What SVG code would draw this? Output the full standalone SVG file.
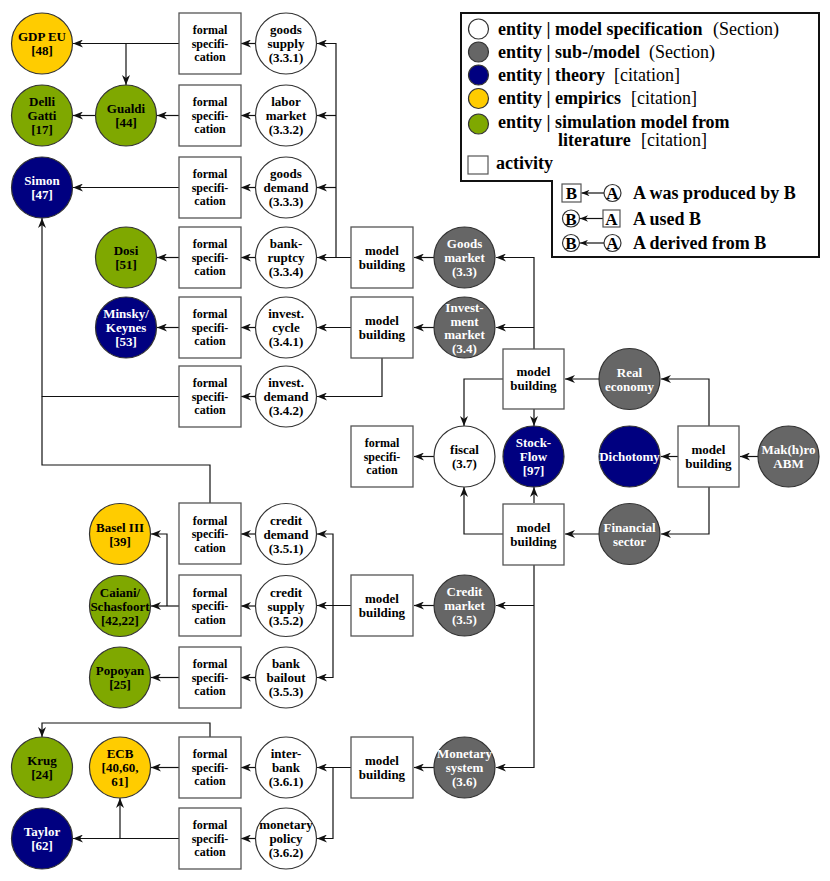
<svg xmlns="http://www.w3.org/2000/svg" width="830" height="881" viewBox="0 0 830 881" font-family="'Liberation Serif', 'Times New Roman', serif">
<style>
text{font-family:"Liberation Serif","Times New Roman",serif;font-weight:bold;text-anchor:middle}
.n text{font-size:13px}
.f text{font-size:12px}
.ent{stroke:#333;stroke-width:1.2}
.w{fill:#fff}.g{fill:#666}.b{fill:#000080}.y{fill:#ffcc00}.gr{fill:#7fa800}
.lt{fill:#fff}
.box{fill:#fff;stroke:#555;stroke-width:1.3}
#connectors path{fill:none;stroke:#111;stroke-width:1.2;marker-end:url(#a)}
#connectors path.j{marker-end:none}
.leg text{text-anchor:start;font-size:18px}
.leg .r{font-weight:normal}
</style>
<defs>
<marker id="a" viewBox="0 0 10 8" refX="10" refY="4" markerWidth="10" markerHeight="8" markerUnits="userSpaceOnUse" orient="auto"><path d="M0,0 L10,4 L0,8 L3,4 z" fill="#111"/></marker>
<marker id="s" viewBox="0 0 10 8" refX="10" refY="4" markerWidth="8" markerHeight="6.4" markerUnits="userSpaceOnUse" orient="auto"><path d="M0,0 L10,4 L0,8 L3,4 z" fill="#111"/></marker>
</defs>
<rect width="830" height="881" fill="#fff"/>

<g id="connectors">
<path d="M255,43.5 H241"/>
<path d="M179,43.5 H73"/>
<path d="M126,43.5 V85"/>
<path d="M255,115.5 H241"/>
<path d="M179,115.5 H157"/>
<path d="M96,115.5 H73"/>
<path d="M255,187.5 H241"/>
<path d="M179,187.5 H73"/>
<path d="M255,257.5 H241"/>
<path d="M179,257.5 H157"/>
<path d="M255,327.5 H241"/>
<path d="M179,327.5 H157"/>
<path d="M255,396.5 H241"/>
<path d="M179,396.5 H42 V218"/>
<path class="j" d="M210,503 V465 H42 V396.5"/>
<path d="M351,257.5 H317"/>
<path d="M336,257.5 V43.5 H317"/>
<path d="M336,115.5 H317"/>
<path d="M336,187.5 H317"/>
<path d="M351,327.5 H317"/>
<path d="M382,358 V396.5 H317"/>
<path d="M434,257.5 H414"/>
<path d="M434,327.5 H414"/>
<path d="M534,349 V257.5 H496"/>
<path d="M534,327.5 H496"/>
<path d="M503,379 H464 V426"/>
<path d="M534,409 V426"/>
<path d="M599,379 H565"/>
<path d="M709,426 V379 H661"/>
<path d="M678,456.5 H661"/>
<path d="M709,487 V534 H661"/>
<path d="M758,456.5 H740"/>
<path d="M434,456.5 H414"/>
<path d="M503,534 H464 V487"/>
<path d="M534,503 V487"/>
<path d="M599,534 H565"/>
<path d="M534,565 V767.5 H496"/>
<path d="M534,605.5 H496"/>
<path d="M434,605.5 H414"/>
<path d="M351,605.5 H317"/>
<path d="M333,606 V534 H317"/>
<path d="M333,606 V677.5 H317"/>
<path d="M255,534 H241"/>
<path d="M255,606 H241"/>
<path d="M255,677.5 H241"/>
<path d="M179,606 H151"/>
<path d="M167,606 V534 H151"/>
<path d="M179,677.5 H151"/>
<path d="M434,767.5 H414"/>
<path d="M351,767.5 H317"/>
<path d="M333,767.5 V838.5 H317"/>
<path d="M255,767.5 H241"/>
<path d="M255,838.5 H241"/>
<path d="M179,767.5 H151"/>
<path d="M210,737 V723 H42 V737"/>
<path d="M179,838.5 H73"/>
<path d="M120,838.5 V798"/>
</g>

<!-- literature / theory / empirics entities -->
<g id="gdp" class="n"><circle class="ent y" cx="42" cy="43.5" r="30.5"/><text><tspan x="42" y="41">GDP EU</tspan><tspan x="42" y="55">[48]</tspan></text></g>
<g id="delli" class="n"><circle class="ent gr" cx="42" cy="115.5" r="30.5"/><text><tspan x="42" y="106">Delli</tspan><tspan x="42" y="120">Gatti</tspan><tspan x="42" y="134">[17]</tspan></text></g>
<g id="gualdi" class="n"><circle class="ent gr" cx="126" cy="115.5" r="30.5"/><text><tspan x="126" y="113">Gualdi</tspan><tspan x="126" y="127">[44]</tspan></text></g>
<g id="simon" class="n"><circle class="ent b" cx="42" cy="187.5" r="30.5"/><text class="lt"><tspan x="42" y="185">Simon</tspan><tspan x="42" y="199">[47]</tspan></text></g>
<g id="dosi" class="n"><circle class="ent gr" cx="126" cy="257.5" r="30.5"/><text><tspan x="126" y="255">Dosi</tspan><tspan x="126" y="269">[51]</tspan></text></g>
<g id="minsky" class="n"><circle class="ent b" cx="126" cy="327.5" r="30.5"/><text class="lt"><tspan x="126" y="318">Minsky/</tspan><tspan x="126" y="332">Keynes</tspan><tspan x="126" y="346">[53]</tspan></text></g>
<g id="basel" class="n"><circle class="ent y" cx="120" cy="534" r="30.5"/><text><tspan x="120" y="531.5">Basel III</tspan><tspan x="120" y="545.5">[39]</tspan></text></g>
<g id="caiani" class="n"><circle class="ent gr" cx="120" cy="606" r="30.5"/><text><tspan x="120" y="596.5">Caiani/</tspan><tspan x="120" y="610.5">Schasfoort</tspan><tspan x="120" y="624.5">[42,22]</tspan></text></g>
<g id="popoyan" class="n"><circle class="ent gr" cx="120" cy="677.5" r="30.5"/><text><tspan x="120" y="675">Popoyan</tspan><tspan x="120" y="689">[25]</tspan></text></g>
<g id="krug" class="n"><circle class="ent gr" cx="42" cy="767.5" r="30.5"/><text><tspan x="42" y="765">Krug</tspan><tspan x="42" y="779">[24]</tspan></text></g>
<g id="ecb" class="n"><circle class="ent y" cx="120" cy="767.5" r="30.5"/><text><tspan x="120" y="758">ECB</tspan><tspan x="120" y="772">[40,60,</tspan><tspan x="120" y="786">61]</tspan></text></g>
<g id="taylor" class="n"><circle class="ent b" cx="42" cy="838.5" r="30.5"/><text class="lt"><tspan x="42" y="836">Taylor</tspan><tspan x="42" y="850">[62]</tspan></text></g>

<!-- formal specification activities -->
<g id="fs1" class="f"><rect class="box" x="179" y="13" width="62" height="61"/><text><tspan x="210" y="34">formal</tspan><tspan x="210" y="47.5">specifi-</tspan><tspan x="210" y="61">cation</tspan></text></g>
<g id="fs2" class="f"><rect class="box" x="179" y="85" width="62" height="61"/><text><tspan x="210" y="106">formal</tspan><tspan x="210" y="119.5">specifi-</tspan><tspan x="210" y="133">cation</tspan></text></g>
<g id="fs3" class="f"><rect class="box" x="179" y="157" width="62" height="61"/><text><tspan x="210" y="178">formal</tspan><tspan x="210" y="191.5">specifi-</tspan><tspan x="210" y="205">cation</tspan></text></g>
<g id="fs4" class="f"><rect class="box" x="179" y="227" width="62" height="61"/><text><tspan x="210" y="248">formal</tspan><tspan x="210" y="261.5">specifi-</tspan><tspan x="210" y="275">cation</tspan></text></g>
<g id="fs5" class="f"><rect class="box" x="179" y="297" width="62" height="61"/><text><tspan x="210" y="318">formal</tspan><tspan x="210" y="331.5">specifi-</tspan><tspan x="210" y="345">cation</tspan></text></g>
<g id="fs6" class="f"><rect class="box" x="179" y="366" width="62" height="61"/><text><tspan x="210" y="387">formal</tspan><tspan x="210" y="400.5">specifi-</tspan><tspan x="210" y="414">cation</tspan></text></g>
<g id="fs7" class="f"><rect class="box" x="179" y="503" width="62" height="61"/><text><tspan x="210" y="524.5">formal</tspan><tspan x="210" y="538">specifi-</tspan><tspan x="210" y="551.5">cation</tspan></text></g>
<g id="fs8" class="f"><rect class="box" x="179" y="575" width="62" height="61"/><text><tspan x="210" y="596.5">formal</tspan><tspan x="210" y="610">specifi-</tspan><tspan x="210" y="623.5">cation</tspan></text></g>
<g id="fs9" class="f"><rect class="box" x="179" y="647" width="62" height="61"/><text><tspan x="210" y="668">formal</tspan><tspan x="210" y="681.5">specifi-</tspan><tspan x="210" y="695">cation</tspan></text></g>
<g id="fs10" class="f"><rect class="box" x="179" y="737" width="62" height="61"/><text><tspan x="210" y="758">formal</tspan><tspan x="210" y="771.5">specifi-</tspan><tspan x="210" y="785">cation</tspan></text></g>
<g id="fs11" class="f"><rect class="box" x="179" y="808" width="62" height="61"/><text><tspan x="210" y="829">formal</tspan><tspan x="210" y="842.5">specifi-</tspan><tspan x="210" y="856">cation</tspan></text></g>
<g id="fs12" class="f"><rect class="box" x="351" y="426" width="62" height="61"/><text><tspan x="382" y="447">formal</tspan><tspan x="382" y="460.5">specifi-</tspan><tspan x="382" y="474">cation</tspan></text></g>

<!-- model specification entities -->
<g id="ms331" class="n"><circle class="ent w" cx="286" cy="43.5" r="30.5"/><text><tspan x="286" y="34">goods</tspan><tspan x="286" y="48">supply</tspan><tspan x="286" y="62">(3.3.1)</tspan></text></g>
<g id="ms332" class="n"><circle class="ent w" cx="286" cy="115.5" r="30.5"/><text><tspan x="286" y="106">labor</tspan><tspan x="286" y="120">market</tspan><tspan x="286" y="134">(3.3.2)</tspan></text></g>
<g id="ms333" class="n"><circle class="ent w" cx="286" cy="187.5" r="30.5"/><text><tspan x="286" y="178">goods</tspan><tspan x="286" y="192">demand</tspan><tspan x="286" y="206">(3.3.3)</tspan></text></g>
<g id="ms334" class="n"><circle class="ent w" cx="286" cy="257.5" r="30.5"/><text><tspan x="286" y="248">bank-</tspan><tspan x="286" y="262">ruptcy</tspan><tspan x="286" y="276">(3.3.4)</tspan></text></g>
<g id="ms341" class="n"><circle class="ent w" cx="286" cy="327.5" r="30.5"/><text><tspan x="286" y="318">invest.</tspan><tspan x="286" y="332">cycle</tspan><tspan x="286" y="346">(3.4.1)</tspan></text></g>
<g id="ms342" class="n"><circle class="ent w" cx="286" cy="396.5" r="30.5"/><text><tspan x="286" y="387">invest.</tspan><tspan x="286" y="401">demand</tspan><tspan x="286" y="415">(3.4.2)</tspan></text></g>
<g id="ms351" class="n"><circle class="ent w" cx="286" cy="534" r="30.5"/><text><tspan x="286" y="524.5">credit</tspan><tspan x="286" y="538.5">demand</tspan><tspan x="286" y="552.5">(3.5.1)</tspan></text></g>
<g id="ms352" class="n"><circle class="ent w" cx="286" cy="606" r="30.5"/><text><tspan x="286" y="596.5">credit</tspan><tspan x="286" y="610.5">supply</tspan><tspan x="286" y="624.5">(3.5.2)</tspan></text></g>
<g id="ms353" class="n"><circle class="ent w" cx="286" cy="677.5" r="30.5"/><text><tspan x="286" y="668">bank</tspan><tspan x="286" y="682">bailout</tspan><tspan x="286" y="696">(3.5.3)</tspan></text></g>
<g id="ms361" class="n"><circle class="ent w" cx="286" cy="767.5" r="30.5"/><text><tspan x="286" y="758">inter-</tspan><tspan x="286" y="772">bank</tspan><tspan x="286" y="786">(3.6.1)</tspan></text></g>
<g id="ms362" class="n"><circle class="ent w" cx="286" cy="838.5" r="30.5"/><text><tspan x="286" y="829">monetary</tspan><tspan x="286" y="843">policy</tspan><tspan x="286" y="857">(3.6.2)</tspan></text></g>
<g id="fiscal" class="n"><circle class="ent w" cx="464.5" cy="456.5" r="30.5"/><text><tspan x="464.5" y="454">fiscal</tspan><tspan x="464.5" y="468">(3.7)</tspan></text></g>

<!-- model building activities -->
<g id="mb33" class="n"><rect class="box" x="351" y="227" width="62" height="61"/><text><tspan x="382" y="255">model</tspan><tspan x="382" y="269">building</tspan></text></g>
<g id="mb34" class="n"><rect class="box" x="351" y="297" width="62" height="61"/><text><tspan x="382" y="325">model</tspan><tspan x="382" y="339">building</tspan></text></g>
<g id="mb35" class="n"><rect class="box" x="351" y="575" width="62" height="61"/><text><tspan x="382" y="603">model</tspan><tspan x="382" y="617">building</tspan></text></g>
<g id="mb36" class="n"><rect class="box" x="351" y="737" width="62" height="61"/><text><tspan x="382" y="765">model</tspan><tspan x="382" y="779">building</tspan></text></g>
<g id="mbreal" class="n"><rect class="box" x="503" y="349" width="61" height="60"/><text><tspan x="533.5" y="376">model</tspan><tspan x="533.5" y="390">building</tspan></text></g>
<g id="mbfin" class="n"><rect class="box" x="503" y="504" width="61" height="61"/><text><tspan x="533.5" y="532">model</tspan><tspan x="533.5" y="546">building</tspan></text></g>
<g id="mbtop" class="n"><rect class="box" x="678" y="426" width="61" height="61"/><text><tspan x="708.5" y="454">model</tspan><tspan x="708.5" y="468">building</tspan></text></g>

<!-- sub-models and theories -->
<g id="goods" class="n"><circle class="ent g" cx="464.5" cy="257.5" r="30.5"/><text class="lt"><tspan x="464.5" y="248">Goods</tspan><tspan x="464.5" y="262">market</tspan><tspan x="464.5" y="276">(3.3)</tspan></text></g>
<g id="invest" class="n"><circle class="ent g" cx="464.5" cy="327.5" r="30.5"/><text class="lt" font-size="12"><tspan x="464.5" y="312">Invest-</tspan><tspan x="464.5" y="325.5">ment</tspan><tspan x="464.5" y="339">market</tspan><tspan x="464.5" y="352.5">(3.4)</tspan></text></g>
<g id="credit" class="n"><circle class="ent g" cx="464.5" cy="605.5" r="30.5"/><text class="lt"><tspan x="464.5" y="596">Credit</tspan><tspan x="464.5" y="610">market</tspan><tspan x="464.5" y="624">(3.5)</tspan></text></g>
<g id="monetary" class="n"><circle class="ent g" cx="464.5" cy="767.5" r="30.5"/><text class="lt" font-size="12.5"><tspan x="464.5" y="758">Monetary</tspan><tspan x="464.5" y="772">system</tspan><tspan x="464.5" y="786">(3.6)</tspan></text></g>
<g id="stockflow" class="n"><circle class="ent b" cx="533.5" cy="456.5" r="30.5"/><text class="lt"><tspan x="533.5" y="447">Stock-</tspan><tspan x="533.5" y="461">Flow</tspan><tspan x="533.5" y="475">[97]</tspan></text></g>
<g id="real" class="n"><circle class="ent g" cx="629.5" cy="379" r="30.5"/><text class="lt"><tspan x="629.5" y="376.5">Real</tspan><tspan x="629.5" y="390.5">economy</tspan></text></g>
<g id="dichotomy" class="n"><circle class="ent b" cx="629.5" cy="456.5" r="30.5"/><text class="lt"><tspan x="629.5" y="461">Dichotomy</tspan></text></g>
<g id="financial" class="n"><circle class="ent g" cx="629.5" cy="534" r="30.5"/><text class="lt"><tspan x="629.5" y="531.5">Financial</tspan><tspan x="629.5" y="545.5">sector</tspan></text></g>
<g id="makhro" class="n"><circle class="ent g" cx="788.5" cy="456.5" r="30.5"/><text class="lt"><tspan x="788.5" y="454">Mak(h)ro</tspan><tspan x="788.5" y="468">ABM</tspan></text></g>

<!-- legend -->
<g id="legend" class="leg">
<path d="M461,13 H819 V257 H552 V181 H461 Z" fill="#fff" stroke="#111" stroke-width="2"/>
<circle cx="478.5" cy="29" r="10" fill="#fff" stroke="#333" stroke-width="1.2"/>
<text x="498" y="34.5">entity | model specification</text><text class="r" x="713" y="34.5">(Section)</text>
<circle cx="478.5" cy="52" r="10" fill="#666" stroke="#333" stroke-width="1.2"/>
<text x="498" y="57.5">entity | sub-/model</text><text class="r" x="649" y="57.5">(Section)</text>
<circle cx="478.5" cy="75" r="10" fill="#000080" stroke="#333" stroke-width="1.2"/>
<text x="498" y="80.5">entity | theory</text><text class="r" x="614" y="80.5">[citation]</text>
<circle cx="478.5" cy="98.5" r="10" fill="#ffcc00" stroke="#333" stroke-width="1.2"/>
<text x="498" y="103.5">entity | empirics</text><text class="r" x="631" y="103.5">[citation]</text>
<circle cx="478.5" cy="124" r="10" fill="#7fa800" stroke="#333" stroke-width="1.2"/>
<text x="498" y="127.5">entity | simulation model from</text>
<text x="558" y="146">literature</text><text class="r" x="641" y="146">[citation]</text>
<rect x="468" y="156" width="20" height="18" fill="#fff" stroke="#555" stroke-width="1.2"/>
<text x="496" y="169">activity</text>

<rect x="562" y="184" width="19" height="18" fill="#fff" stroke="#555" stroke-width="1.2"/>
<text x="571.5" y="199" style="text-anchor:middle;font-size:17px">B</text>
<path d="M604,193 H581.5" fill="none" stroke="#111" stroke-width="1.2" marker-end="url(#s)"/>
<circle cx="612.5" cy="193" r="8.5" fill="#fff" stroke="#333" stroke-width="1.2"/>
<text x="612.5" y="199" style="text-anchor:middle;font-size:17px">A</text>
<text x="633" y="199">A was produced by B</text>

<circle cx="571" cy="218.5" r="8.5" fill="#fff" stroke="#333" stroke-width="1.2"/>
<text x="571" y="224.5" style="text-anchor:middle;font-size:17px">B</text>
<path d="M603,218.5 H580" fill="none" stroke="#111" stroke-width="1.2" marker-end="url(#s)"/>
<rect x="603" y="210" width="17" height="17" fill="#fff" stroke="#555" stroke-width="1.2"/>
<text x="611.5" y="224.5" style="text-anchor:middle;font-size:17px">A</text>
<text x="633" y="224.5">A used B</text>

<circle cx="571" cy="243" r="8.5" fill="#fff" stroke="#333" stroke-width="1.2"/>
<text x="571" y="249" style="text-anchor:middle;font-size:17px">B</text>
<path d="M604,243 H580" fill="none" stroke="#111" stroke-width="1.2" marker-end="url(#s)"/>
<circle cx="612.5" cy="243" r="8.5" fill="#fff" stroke="#333" stroke-width="1.2"/>
<text x="612.5" y="249" style="text-anchor:middle;font-size:17px">A</text>
<text x="633" y="249">A derived from B</text>
</g>
</svg>
